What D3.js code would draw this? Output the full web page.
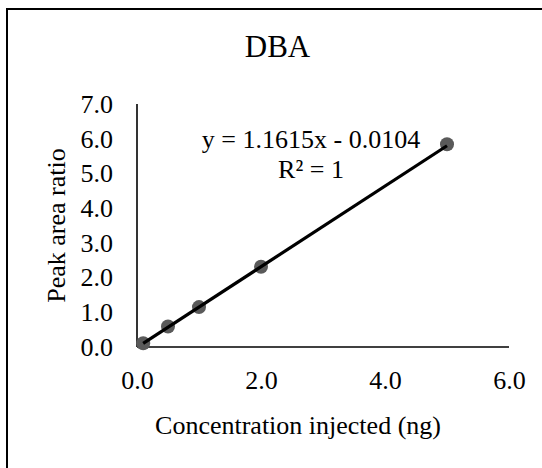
<!DOCTYPE html>
<html>
<head>
<meta charset="utf-8">
<script src="https://cdn.jsdelivr.net/npm/d3@7"></script>
<style>
  html, body { margin: 0; padding: 0; background: #fff; }
  svg { display: block; }
  text { font-family: "Liberation Serif", "Times New Roman", serif; fill: #000; }
</style>
</head>
<body>
<svg id="chart" width="542" height="468"></svg>
<script>
// Calibration data
const concentrations = [0.1, 0.5, 1, 2, 5];          // ng injected
const peakAreaRatios = [0.11, 0.59, 1.15, 2.31, 5.84];
const xTicks = [0, 2, 4, 6];
const yTicks = [0, 1, 2, 3, 4, 5, 6, 7];
const fitSlope = 1.1615;
const fitIntercept = -0.0104;
const fitR2 = 1;

const svg = d3.select("#chart");

// Chart frame
svg.append("rect")
  .attr("x", 7).attr("y", 9)
  .attr("width", 560).attr("height", 480)
  .attr("fill", "none").attr("stroke", "#000").attr("stroke-width", 2);

const x = d3.scaleLinear().domain([0, 6]).range([137, 509]);
const y = d3.scaleLinear().domain([0, 7]).range([347, 104]);

// Title
svg.append("text")
  .attr("x", 277.5).attr("y", 57)
  .attr("text-anchor", "middle")
  .attr("font-size", 31)
  .text("DBA");

// Axes (no tick marks, Excel style)
const xAxis = d3.axisBottom(x).tickValues(xTicks).tickFormat(d3.format(".1f")).tickSize(0).tickPadding(24);
const yAxis = d3.axisLeft(y).tickValues(yTicks).tickFormat(d3.format(".1f")).tickSize(0).tickPadding(24);

const gx = svg.append("g").attr("transform", `translate(0,${y(0)})`).call(xAxis);
const gy = svg.append("g").attr("transform", `translate(${x(0)},0)`).call(yAxis);

[gx, gy].forEach(g => {
  g.select(".domain").attr("stroke", "#000").attr("stroke-width", 1.6);
  g.selectAll("text").attr("font-size", 26).attr("font-family", "Liberation Serif, Times New Roman, serif").attr("fill", "#000");
});
// x-axis line ends at the last tick
gx.select(".domain").attr("d", `M${x(0)},0H${x(6)}`);
gy.select(".domain").attr("d", `M0,${y(7)}V${y(0)}`);

// Axis titles
svg.append("text")
  .attr("x", 298).attr("y", 434)
  .attr("text-anchor", "middle")
  .attr("font-size", 26)
  .text("Concentration injected (ng)");

svg.append("text")
  .attr("transform", `translate(65,${(y(0) + y(7)) / 2}) rotate(-90)`)
  .attr("text-anchor", "middle")
  .attr("font-size", 26)
  .text("Peak area ratio");

// Data markers
const pts = concentrations.map((c, i) => ({ c, r: peakAreaRatios[i] }));
svg.append("g").selectAll("circle")
  .data(pts)
  .join("circle")
  .attr("cx", d => x(d.c))
  .attr("cy", d => y(d.r))
  .attr("r", 7)
  .attr("fill", "#5a5a5a");

// Linear trendline from the fitted equation
const xMin = d3.min(concentrations), xMax = d3.max(concentrations);
const fitLine = [xMin, xMax].map(c => ({ c, r: fitSlope * c + fitIntercept }));
svg.append("path")
  .datum(fitLine)
  .attr("d", d3.line().x(d => x(d.c)).y(d => y(d.r)))
  .attr("fill", "none")
  .attr("stroke", "#000")
  .attr("stroke-width", 3.2);

// Equation label
const eq = svg.append("text").attr("text-anchor", "middle").attr("font-size", 26);
eq.append("tspan").attr("x", 311).attr("y", 148)
  .text(`y = ${fitSlope}x - ${Math.abs(fitIntercept).toFixed(4)}`);
eq.append("tspan").attr("x", 311).attr("y", 178)
  .text(`R² = ${fitR2}`);
</script>
</body>
</html>
